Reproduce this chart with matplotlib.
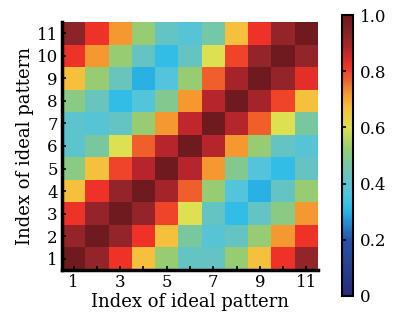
import numpy as np
import matplotlib
matplotlib.use("Agg")
import matplotlib.pyplot as plt
from matplotlib.colors import LinearSegmentedColormap

# Similarity between ideal patterns (rows listed from index 1 upward)
pattern_index = list(range(1, 12))
similarity = [
    [1.00, 0.92, 0.82, 0.67, 0.52, 0.42, 0.42, 0.52, 0.67, 0.82, 0.92],  # 1
    [0.92, 1.00, 0.92, 0.82, 0.67, 0.47, 0.38, 0.42, 0.52, 0.72, 0.82],  # 2
    [0.82, 0.92, 1.00, 0.92, 0.80, 0.60, 0.42, 0.32, 0.42, 0.50, 0.72],  # 3
    [0.67, 0.82, 0.92, 1.00, 0.90, 0.77, 0.52, 0.37, 0.30, 0.42, 0.52],  # 4
    [0.50, 0.67, 0.80, 0.88, 1.00, 0.88, 0.72, 0.49, 0.37, 0.32, 0.42],  # 5
    [0.40, 0.47, 0.60, 0.77, 0.88, 1.00, 0.88, 0.72, 0.52, 0.42, 0.38],  # 6
    [0.40, 0.38, 0.42, 0.52, 0.72, 0.87, 1.00, 0.88, 0.77, 0.60, 0.47],  # 7
    [0.50, 0.43, 0.32, 0.37, 0.49, 0.72, 0.88, 1.00, 0.90, 0.80, 0.67],  # 8
    [0.67, 0.52, 0.43, 0.30, 0.37, 0.52, 0.77, 0.90, 1.00, 0.92, 0.83],  # 9
    [0.82, 0.72, 0.52, 0.42, 0.32, 0.42, 0.60, 0.80, 0.92, 1.00, 0.92],  # 10
    [0.93, 0.82, 0.72, 0.52, 0.42, 0.38, 0.46, 0.67, 0.82, 0.92, 1.00],  # 11
]
cbar_ticks = [0, 0.2, 0.4, 0.6, 0.8, 1.0]
cbar_tick_labels = ["0", "0.2", "0.4", "0.6", "0.8", "1.0"]

cmap = LinearSegmentedColormap.from_list("jetlike", [
    (0.00, "#272c78"),
    (0.20, "#2852a8"),
    (0.27, "#2496dc"),
    (0.31, "#2cbce8"),
    (0.36, "#50c4e0"),
    (0.42, "#64c4c4"),
    (0.48, "#7cc898"),
    (0.53, "#9ccd6c"),
    (0.60, "#dde050"),
    (0.67, "#f5c03c"),
    (0.72, "#f59a30"),
    (0.77, "#f0602c"),
    (0.82, "#ee3228"),
    (0.88, "#b8242c"),
    (0.93, "#8b2428"),
    (1.00, "#6e1a1e"),
])

plt.rcParams["font.family"] = ["DejaVu Serif"]

fig = plt.figure(figsize=(3.96, 3.22), dpi=100)
ax = fig.add_axes([62 / 396, 1 - 270 / 322, 256 / 396, 248 / 322])
cax = fig.add_axes([342 / 396, 1 - 296 / 322, 11 / 396, 281 / 322])

data = np.array(similarity)
mesh = ax.pcolormesh(np.arange(0.5, 12), np.arange(0.5, 12), data,
                     cmap=cmap, vmin=0, vmax=1)
ax.set_xlim(0.5, 11.5)
ax.set_ylim(0.5, 11.5)

ax.set_xticks(pattern_index)
ax.set_xticklabels([str(i) if i % 2 else "" for i in pattern_index])
ax.set_yticks(pattern_index)
ax.set_yticklabels([str(i) for i in pattern_index])
ax.tick_params(direction="in", length=3, width=1.2, labelsize=12, pad=3)
for side in ("top", "right"):
    ax.spines[side].set_visible(False)
for side in ("left", "bottom"):
    ax.spines[side].set_linewidth(2.5)

ax.set_xlabel("Index of ideal pattern", fontsize=13, labelpad=1)
ax.set_ylabel("Index of ideal pattern", fontsize=13, labelpad=2)

cb = fig.colorbar(mesh, cax=cax, ticks=cbar_ticks)
cb.ax.set_yticklabels(cbar_tick_labels)
cb.outline.set_linewidth(1.5)
cax.tick_params(direction="in", length=3, width=1.2, labelsize=12, left=True, right=False, pad=5)

fig.savefig("out.png", dpi=100)
